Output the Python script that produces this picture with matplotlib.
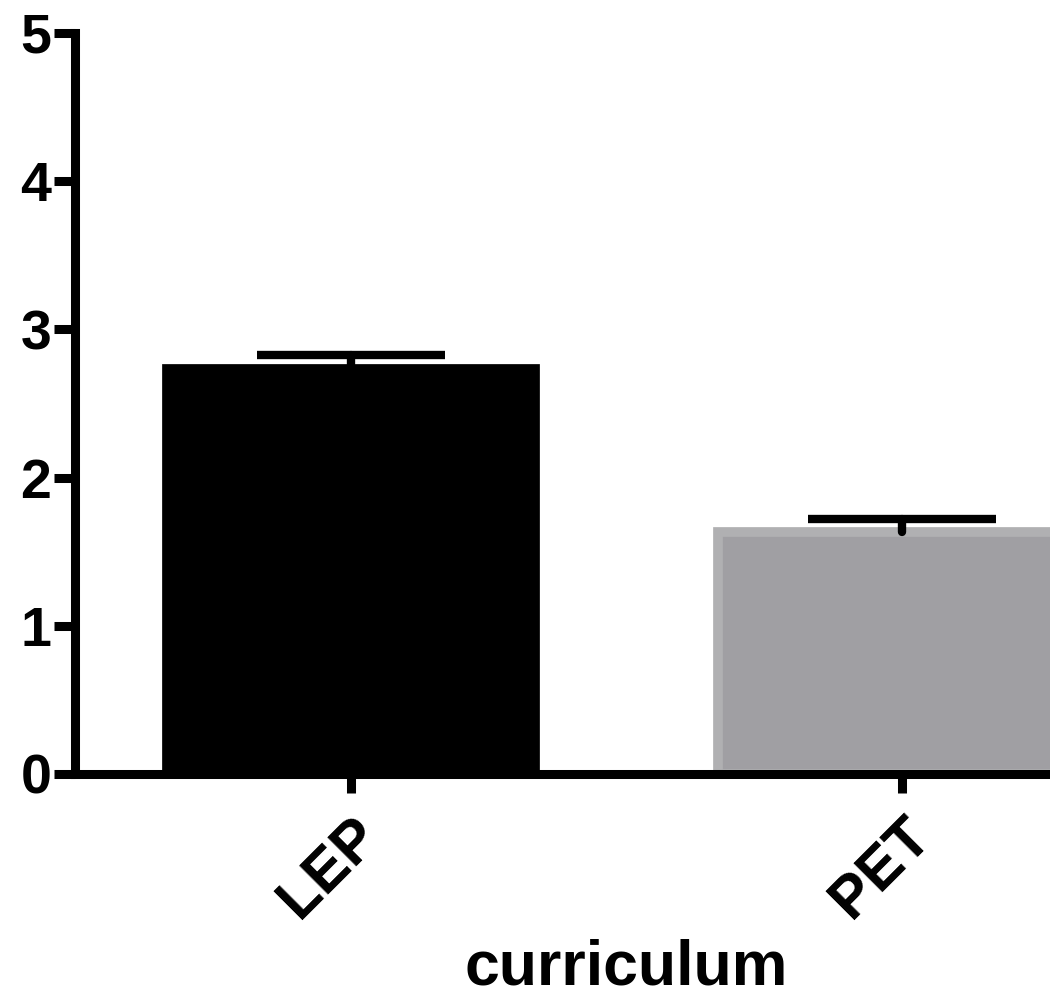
import matplotlib
matplotlib.use('Agg')
import matplotlib.pyplot as plt

categories = ['LEP', 'PET']
means = [2.73, 1.63]
sems = [0.10, 0.09]
bar_colors = ['#000000', '#a09fa3']
edge_colors = ['#000000', '#b0b0b2']

plt.rcParams['font.family'] = ['Liberation Sans', 'DejaVu Sans']
plt.rcParams['font.weight'] = 'bold'

fig = plt.figure(figsize=(10.5, 10), dpi=100)
# axes runs past the right edge of the figure, as in the original export
ax = fig.add_axes([75 / 1050, 0.226, 1103 / 1050, 0.741])

x = list(range(len(categories)))
ax.bar(x, means, width=0.667, color=bar_colors, edgecolor=edge_colors,
       linewidth=7, zorder=1)
eb = ax.errorbar(x, means, yerr=[[0] * len(sems), sems], fmt='none',
                 ecolor='black', elinewidth=6, capsize=68, capthick=6, zorder=3)
eb[1][0].set_visible(False)  # upper error bars only
for c in eb[2]:
    c.set_capstyle('round')

ax.set_xlim(-0.5, 1.5)
ax.set_ylim(0, 5)
ax.set_yticks(range(6))
ax.set_xticks(x)
ax.set_xticklabels(categories, rotation=45, ha='right', rotation_mode='anchor')

for s in ['top', 'right']:
    ax.spines[s].set_visible(False)
for s in ['left', 'bottom']:
    ax.spines[s].set_linewidth(6.5)
    ax.spines[s].set_zorder(4)
ax.spines['left'].set_bounds(0, 5)

ax.tick_params(axis='y', length=15, width=6.5, labelsize=40, pad=2)
ax.tick_params(axis='x', length=14, width=6.5, labelsize=43, pad=10)
ax.set_xlabel('curriculum', fontsize=45, fontweight='bold', labelpad=7)

fig.savefig('out.png', dpi=100)
